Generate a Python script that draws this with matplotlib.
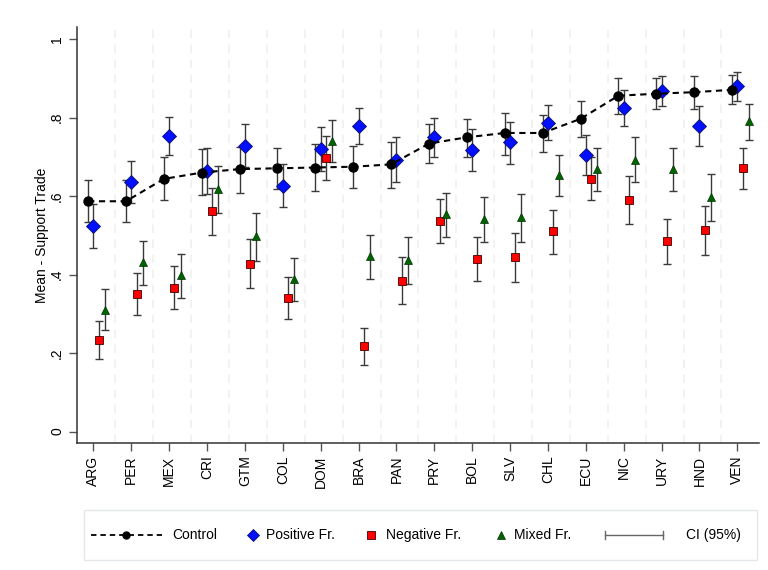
import numpy as np
import matplotlib
matplotlib.use('Agg')
from matplotlib import pyplot as plt
from matplotlib.lines import Line2D
from matplotlib.patches import Rectangle
from matplotlib.ticker import FixedLocator

plt.rcParams['font.family'] = ['Liberation Sans', 'DejaVu Sans']

countries = ['ARG', 'PER', 'MEX', 'CRI', 'GTM', 'COL', 'DOM', 'BRA', 'PAN',
             'PRY', 'BOL', 'SLV', 'CHL', 'ECU', 'NIC', 'URY', 'HND', 'VEN']

control    = [0.587, 0.587, 0.644, 0.660, 0.669, 0.671, 0.673, 0.675, 0.681,
              0.734, 0.750, 0.761, 0.761, 0.797, 0.856, 0.861, 0.865, 0.871]
control_lo = [0.533, 0.533, 0.589, 0.603, 0.609, 0.617, 0.614, 0.622, 0.622,
              0.684, 0.701, 0.706, 0.713, 0.751, 0.809, 0.822, 0.823, 0.834]
control_hi = [0.641, 0.641, 0.699, 0.719, 0.726, 0.723, 0.732, 0.727, 0.737,
              0.784, 0.797, 0.812, 0.808, 0.843, 0.900, 0.900, 0.906, 0.908]

positive = [0.524, 0.636, 0.754, 0.665, 0.728, 0.626, 0.720, 0.778, 0.692,
            0.750, 0.718, 0.737, 0.787, 0.704, 0.825, 0.867, 0.780, 0.881]
pos_lo   = [0.467, 0.583, 0.704, 0.606, 0.674, 0.573, 0.665, 0.732, 0.635,
            0.701, 0.665, 0.682, 0.742, 0.653, 0.778, 0.829, 0.729, 0.843]
pos_hi   = [0.581, 0.690, 0.802, 0.723, 0.783, 0.681, 0.776, 0.824, 0.750,
            0.800, 0.770, 0.790, 0.833, 0.755, 0.871, 0.906, 0.831, 0.916]

negative = [0.234, 0.351, 0.367, 0.561, 0.428, 0.341, 0.697, 0.217, 0.385,
            0.537, 0.440, 0.445, 0.510, 0.644, 0.589, 0.485, 0.513, 0.671]
neg_lo   = [0.186, 0.296, 0.312, 0.501, 0.367, 0.286, 0.640, 0.170, 0.325,
            0.481, 0.383, 0.382, 0.452, 0.589, 0.529, 0.426, 0.451, 0.617]
neg_hi   = [0.282, 0.404, 0.422, 0.620, 0.490, 0.393, 0.754, 0.263, 0.445,
            0.592, 0.497, 0.505, 0.566, 0.699, 0.651, 0.541, 0.575, 0.723]

mixed  = [0.311, 0.431, 0.399, 0.618, 0.498, 0.389, 0.741, 0.447, 0.437,
          0.555, 0.541, 0.546, 0.654, 0.669, 0.693, 0.669, 0.598, 0.792]
mix_lo = [0.259, 0.373, 0.341, 0.557, 0.435, 0.333, 0.686, 0.390, 0.376,
          0.497, 0.484, 0.484, 0.600, 0.613, 0.635, 0.613, 0.536, 0.743]
mix_hi = [0.363, 0.486, 0.452, 0.676, 0.557, 0.442, 0.795, 0.501, 0.496,
          0.608, 0.597, 0.605, 0.706, 0.722, 0.750, 0.722, 0.657, 0.836]

yticks = [0, 0.2, 0.4, 0.6, 0.8, 1]
ytick_labels = ['0', '.2', '.4', '.6', '.8', '1']

fig = plt.figure(figsize=(7.68, 5.70), dpi=100)
ax = fig.add_axes([0.0999, 0.2228, 0.8888, 0.7298])

x = np.arange(len(countries))
ci_col = '#3a3a3a'

def ci_series(xpos, mid, lo, hi, **kw):
    mid = np.array(mid)
    err = [mid - np.array(lo), np.array(hi) - mid]
    ax.errorbar(xpos, mid, yerr=err, fmt='none', ecolor=ci_col, elinewidth=1.0,
                capsize=2.6, capthick=1.0, zorder=2)
    ax.plot(xpos, mid, linestyle='none', zorder=3, **kw)

# control: dashed line + black dots
ax.errorbar(x - 0.14, control,
            yerr=[np.array(control) - np.array(control_lo),
                  np.array(control_hi) - np.array(control)],
            fmt='none', ecolor=ci_col, elinewidth=1.0, capsize=2.6, capthick=1.0, zorder=2)
ax.plot(x - 0.14, control, color='black', linestyle=(0, (3, 2.2)), linewidth=1.5,
        marker='o', markersize=6.5, zorder=4)

ci_series(x, positive, pos_lo, pos_hi, marker='D', markersize=7,
          markerfacecolor='#0010ff', markeredgecolor='#101060', markeredgewidth=0.6)
ci_series(x + 0.14, negative, neg_lo, neg_hi, marker='s', markersize=6.3,
          markerfacecolor='#ff0000', markeredgecolor='#400000', markeredgewidth=0.6)
ci_series(x + 0.30, mixed, mix_lo, mix_hi, marker='^', markersize=6.3,
          markerfacecolor='#006400', markeredgecolor='#003000', markeredgewidth=0.5)

ax.set_xlim(-0.44, 17.58)
ax.set_ylim(-0.029, 1.031)

ax.set_xticks(x)
ax.set_xticklabels(countries, rotation=90, fontsize=10)
ax.set_yticks(yticks)
ax.set_yticklabels(ytick_labels, rotation=90, va='center', fontsize=10)
ax.tick_params(axis='both', length=6, width=1, color='#555555', pad=3)

# vertical dashed grid lines between countries
ax.xaxis.set_minor_locator(FixedLocator(x[:-1] + 0.58))
ax.tick_params(axis='x', which='minor', length=0)
ax.grid(axis='x', which='minor', color='#f0f0f0', linestyle=(0, (5, 4)), linewidth=1.2)
ax.set_axisbelow(True)

for s in ['top', 'right']:
    ax.spines[s].set_visible(False)
for s in ['left', 'bottom']:
    ax.spines[s].set_color('#333333')
    ax.spines[s].set_linewidth(1.1)

ax.set_ylabel('Mean - Support Trade', fontsize=10, labelpad=1)

# legend box drawn by hand (Stata-style layout)
W, H = 768.0, 570.0
def fx(px): return px / W
def fy(py): return 1 - py / H

fig.add_artist(Rectangle((fx(84), fy(560)), fx(757) - fx(84), fy(510) - fy(560),
                         transform=fig.transFigure, facecolor='white',
                         edgecolor='#e3e6ea', linewidth=1.0))
ly = fy(535)
fig.add_artist(Line2D([fx(91), fx(162)], [ly, ly], transform=fig.transFigure,
                      color='black', linestyle=(0, (3, 2.2)), linewidth=1.3))
fig.add_artist(Line2D([fx(126)], [ly], transform=fig.transFigure, color='black',
                      marker='o', markersize=5))
fig.add_artist(Line2D([fx(253)], [ly], transform=fig.transFigure, marker='D', markersize=6,
                      markerfacecolor='#0010ff', markeredgecolor='#101060', markeredgewidth=0.6))
fig.add_artist(Line2D([fx(371)], [ly], transform=fig.transFigure, marker='s', markersize=5.5,
                      markerfacecolor='#ff0000', markeredgecolor='#400000', markeredgewidth=0.6))
fig.add_artist(Line2D([fx(501)], [ly], transform=fig.transFigure, marker='^', markersize=5.5,
                      markerfacecolor='#006400', markeredgecolor='#003000', markeredgewidth=0.5))
fig.add_artist(Line2D([fx(605), fx(663)], [ly, ly], transform=fig.transFigure,
                      color='#666666', linewidth=1.0))
for cx in (605, 663):
    fig.add_artist(Line2D([fx(cx), fx(cx)], [ly - 0.007, ly + 0.007],
                          transform=fig.transFigure, color='#666666', linewidth=1.0))

for tx, label in [(172, 'Control'), (266, 'Positive Fr.'), (386, 'Negative Fr.'),
                  (514, 'Mixed Fr.'), (686, 'CI (95%)')]:
    fig.text(fx(tx), ly, label, fontsize=10, va='center', ha='left')

fig.savefig('out.png', dpi=100, facecolor='white')
